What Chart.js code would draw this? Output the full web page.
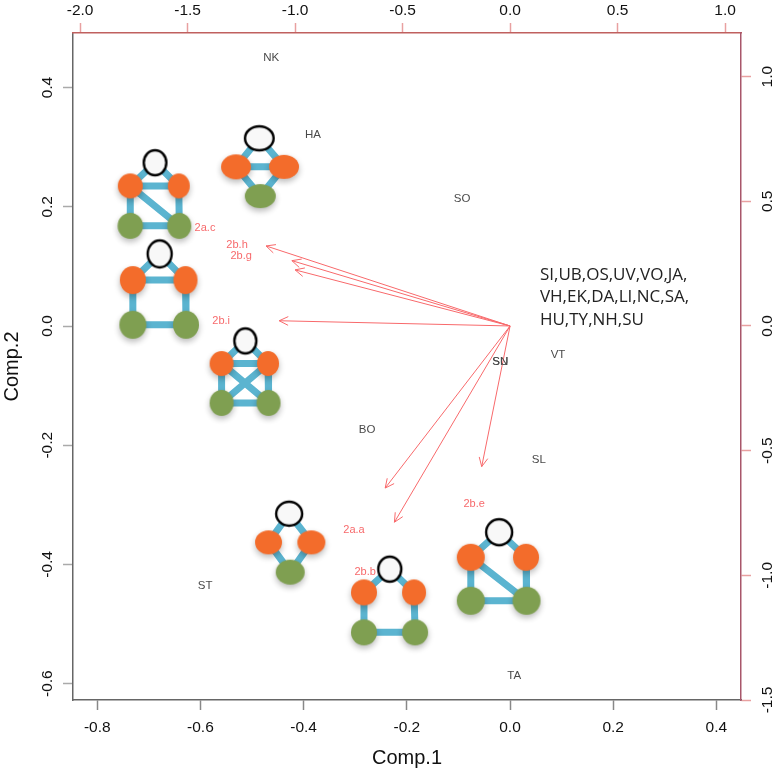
<!DOCTYPE html>
<html>
<head>
<meta charset="utf-8">
<title>Comp.1 / Comp.2 biplot</title>
<script src="https://cdn.jsdelivr.net/npm/chart.js@4"></script>
<style>
  html, body { margin: 0; padding: 0; background: #fff; }
  canvas { display: block; }
</style>
</head>
<body>
<canvas id="biplot" width="774" height="771"></canvas>
<script>
// -------- Tick labels --------
const comp1Ticks = [-0.8, -0.6, -0.4, -0.2, 0, 0.2, 0.4];
const comp2Ticks = [-0.6, -0.4, -0.2, 0, 0.2, 0.4];
const loadXTicks = [-2, -1.5, -1, -0.5, 0, 0.5, 1];
const loadYTicks = [-1.5, -1, -0.5, 0, 0.5, 1];

// -------- Site scores (Comp.1, Comp.2) --------
const siteNames = ['NK', 'HA', 'SO', 'VT', 'SN', 'SU', 'BO', 'SL', 'ST', 'TA'];
const siteX = [-0.463, -0.382, -0.093, 0.093, -0.019, -0.019, -0.277, 0.056, -0.591, 0.008];
const siteY = [0.450, 0.320, 0.213, -0.049, -0.060, -0.060, -0.174, -0.225, -0.436, -0.587];

// -------- Sites piled up at the origin --------
const noteLines = ['SI,UB,OS,UV,VO,JA,', 'VH,EK,DA,LI,NC,SA,', 'HU,TY,NH,SU'];
const noteX = [0.058, 0.058, 0.058];
const noteY = [0.086, 0.049, 0.010];

// -------- Motif loadings (top / right axes) --------
const arrowTipX = [-1.135, -1.015, -1.0, -1.074, -0.581, -0.538, -0.132];
const arrowTipY = [0.321, 0.262, 0.225, 0.021, -0.650, -0.787, -0.564];
const motifNames = ['2a.c', '2b.h', '2b.g', '2b.i', '2b.e', '2a.a', '2b.b'];
const motifLabelX = [-1.419, -1.270, -1.251, -1.344, -0.167, -0.726, -0.674];
const motifLabelY = [0.393, 0.325, 0.281, 0.020, -0.714, -0.818, -0.987];

// -------- Motif networks, nodes in Comp.1 / Comp.2 units --------
const nodeX = [
  -0.688, -0.736, -0.642, -0.736, -0.641,
  -0.486, -0.531, -0.438, -0.484,
  -0.679, -0.731, -0.629, -0.731, -0.628,
  -0.513, -0.559, -0.469, -0.559, -0.468,
  -0.428, -0.468, -0.385, -0.426,
  -0.233, -0.283, -0.186, -0.283, -0.184,
  -0.021, -0.076, 0.031, -0.076, 0.032
];
const nodeY = [
  0.274, 0.235, 0.235, 0.168, 0.168,
  0.315, 0.267, 0.267, 0.218,
  0.121, 0.077, 0.077, 0.002, 0.002,
  -0.025, -0.063, -0.063, -0.129, -0.129,
  -0.315, -0.363, -0.363, -0.413,
  -0.408, -0.447, -0.447, -0.514, -0.514,
  -0.346, -0.388, -0.388, -0.461, -0.461
];
const nodeKinds = [
  'w', 'o', 'o', 'g', 'g',
  'w', 'o', 'o', 'g',
  'w', 'o', 'o', 'g', 'g',
  'w', 'o', 'o', 'g', 'g',
  'w', 'o', 'o', 'g',
  'w', 'o', 'o', 'g', 'g',
  'w', 'o', 'o', 'g', 'g'
];
const edgeFrom = [0, 0, 1, 1, 2, 3, 1, 5, 5, 6, 6, 7, 9, 9, 10, 10, 11, 12, 14, 14, 15, 15, 16, 17, 15, 16, 19, 19, 20, 21, 23, 23, 24, 25, 26, 28, 28, 29, 30, 31, 29];
const edgeTo = [1, 2, 2, 3, 4, 4, 4, 6, 7, 7, 8, 8, 10, 11, 11, 12, 13, 13, 15, 16, 16, 17, 18, 18, 18, 17, 20, 21, 22, 22, 24, 25, 26, 27, 27, 29, 30, 31, 32, 32, 32];

// -------- Node sizes in pixels (the blobs are not quite round) --------
const nodeRx = [
  11.3, 12.5, 11, 12.7, 12,
  14.3, 15, 15, 15.5,
  12, 13, 12, 13.5, 13,
  11, 12, 11, 12, 12,
  13, 13.5, 14, 14.5,
  11.5, 13, 12, 13, 13,
  13, 14, 13, 14, 14
];
const nodeRy = [
  12.5, 12.5, 12.5, 13, 13,
  12, 12.5, 12, 12,
  13.5, 14, 14, 14, 14,
  12.5, 12.5, 12.5, 13, 13,
  12, 12, 12, 12.5,
  12.5, 13, 13, 13, 13,
  13, 13.5, 13.5, 14, 14
];

const FILLS = { w: '#f8f8f8', o: '#f36c2b', g: '#7f9f51' };
const RED = '#f8696b';
const SANS = '"Liberation Sans", Arial, sans-serif';

// -------- Node sprite, so each blob can be an ellipse with a soft shadow --------
function nodeSprite(kind, rx, ry) {
  const sprite = document.createElement('canvas');
  sprite.width = Math.ceil(rx * 2) + 24;
  sprite.height = Math.ceil(ry * 2) + 24;
  const c = sprite.getContext('2d');
  c.beginPath();
  c.ellipse(sprite.width / 2, sprite.height / 2, rx, ry, 0, 0, Math.PI * 2);
  if (kind === 'w') {
    c.fillStyle = FILLS.w;
    c.fill();
    c.lineWidth = 2.4;
    c.strokeStyle = '#000';
    c.stroke();
  } else {
    c.shadowColor = 'rgba(0,0,0,0.28)';
    c.shadowBlur = 6;
    c.shadowOffsetY = 3;
    c.fillStyle = FILLS[kind];
    c.fill();
  }
  return sprite;
}

// -------- Datasets --------
const edgePoints = [];
edgeFrom.forEach((from, i) => {
  edgePoints.push({ x: nodeX[from], y: nodeY[from] });
  edgePoints.push({ x: nodeX[edgeTo[i]], y: nodeY[edgeTo[i]] });
  edgePoints.push({ x: NaN, y: NaN });
});

const datasets = [
  {
    label: 'edges',
    data: edgePoints,
    xAxisID: 'x',
    yAxisID: 'y',
    showLine: true,
    spanGaps: false,
    borderColor: '#5bb4d0',
    borderWidth: 7,
    pointRadius: 0,
    order: 3
  },
  {
    label: 'nodes',
    data: nodeX.map((x, i) => ({ x: x, y: nodeY[i] })),
    xAxisID: 'x',
    yAxisID: 'y',
    pointStyle: nodeKinds.map((k, i) => nodeSprite(k, nodeRx[i], nodeRy[i])),
    pointRadius: 12,
    order: 2
  }
];

arrowTipX.forEach((tipX, i) => {
  datasets.push({
    label: motifNames[i],
    data: [{ x: 0, y: 0 }, { x: tipX, y: arrowTipY[i] }],
    xAxisID: 'x2',
    yAxisID: 'y2',
    showLine: true,
    borderColor: RED,
    borderWidth: 1,
    pointRadius: 0,
    order: 1
  });
});

// -------- Arrow heads and text labels --------
const biplotMarks = {
  id: 'biplotMarks',
  afterDatasetsDraw(chart) {
    const { ctx, scales } = chart;

    ctx.save();
    ctx.strokeStyle = RED;
    ctx.lineWidth = 1;
    arrowTipX.forEach((tipX, i) => {
      const px = scales.x2.getPixelForValue(tipX);
      const py = scales.y2.getPixelForValue(arrowTipY[i]);
      const angle = Math.atan2(py - scales.y2.getPixelForValue(0), px - scales.x2.getPixelForValue(0));
      [-0.45, 0.45].forEach(spread => {
        ctx.beginPath();
        ctx.moveTo(px, py);
        ctx.lineTo(px - 10 * Math.cos(angle + spread), py - 10 * Math.sin(angle + spread));
        ctx.stroke();
      });
    });

    ctx.textBaseline = 'middle';
    ctx.textAlign = 'center';

    ctx.font = '11.5px ' + SANS;
    ctx.fillStyle = '#4a4a4a';
    siteNames.forEach((name, i) => {
      ctx.fillText(name, scales.x.getPixelForValue(siteX[i]), scales.y.getPixelForValue(siteY[i]));
    });

    ctx.font = '11px ' + SANS;
    ctx.fillStyle = '#f76a6c';
    motifNames.forEach((name, i) => {
      ctx.fillText(name, scales.x2.getPixelForValue(motifLabelX[i]), scales.y2.getPixelForValue(motifLabelY[i]));
    });

    ctx.textAlign = 'left';
    ctx.font = '17px "Open Sans", sans-serif';
    ctx.fillStyle = '#222';
    noteLines.forEach((line, i) => {
      ctx.fillText(line, scales.x.getPixelForValue(noteX[i]), scales.y.getPixelForValue(noteY[i]));
    });
    ctx.restore();
  }
};

// -------- Axes --------
function fixedTicks(values) {
  return scale => { scale.ticks = values.map(v => ({ value: v })); };
}

function axis(position, min, max, values, size, lineColor, tickColor, labelPadding, title) {
  const vertical = position === 'left' || position === 'right';
  return {
    type: 'linear',
    position: position,
    min: min,
    max: max,
    afterBuildTicks: fixedTicks(values),
    afterFit: scale => {
      if (vertical) scale.width = size;
      else scale.height = size;
    },
    border: { display: true, color: lineColor, width: 1.5 },
    grid: { drawOnChartArea: false, drawTicks: true, tickLength: 10, tickColor: tickColor, tickWidth: 1.5 },
    ticks: {
      autoSkip: false,
      padding: labelPadding,
      color: '#111',
      font: { family: SANS, size: 15.5 },
      minRotation: vertical ? 90 : 0,
      maxRotation: vertical ? 90 : 0,
      crossAlign: vertical ? 'center' : 'near',
      callback: v => v.toFixed(1)
    },
    title: title
      ? { display: true, text: title, color: '#111', font: { family: SANS, size: 20 }, padding: vertical ? 0 : 1 }
      : { display: false }
  };
}

new Chart(document.getElementById('biplot'), {
  type: 'scatter',
  data: { datasets: datasets },
  options: {
    responsive: false,
    animation: false,
    layout: { padding: 0 },
    plugins: { legend: { display: false }, tooltip: { enabled: false } },
    scales: {
      x: axis('bottom', -0.847, 0.4477, comp1Ticks, 71, '#666', '#888', 8, 'Comp.1'),
      y: axis('left', -0.6275, 0.4916, comp2Ticks, 73, '#666', '#aaa', 2, 'Comp.2'),
      x2: axis('top', -2.033, 1.074, loadXTicks, 33, '#c0605f', '#e8a0a0', 3),
      y2: axis('right', -1.5, 1.175, loadYTicks, 33, '#a8566a', '#e8a0a0', 3)
    }
  },
  plugins: [biplotMarks]
});
</script>
</body>
</html>
